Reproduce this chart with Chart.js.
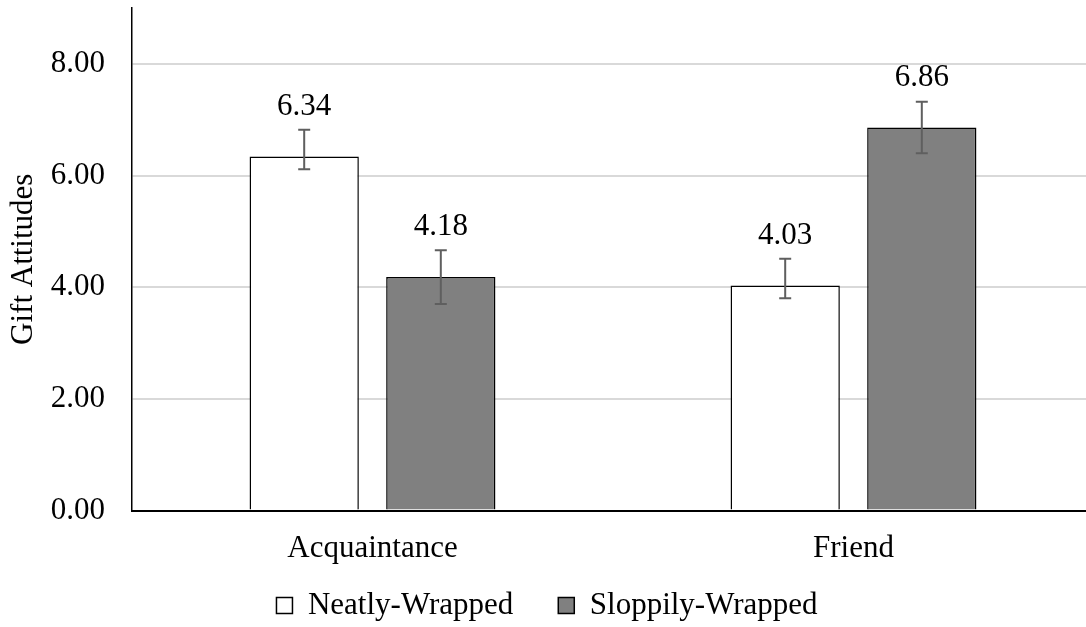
<!DOCTYPE html>
<html>
<head>
<meta charset="utf-8">
<script src="https://cdn.jsdelivr.net/npm/chart.js@4.4.0/dist/chart.umd.min.js"></script>
<style>
  html, body { margin: 0; padding: 0; background: #fff; overflow: hidden; }
  #wrap { position: relative; width: 1100px; height: 627px; }
</style>
</head>
<body>
<div id="wrap"><canvas id="giftChart"></canvas></div>
<script>
// values
const categories = ['Acquaintance', 'Friend'];
const seriesNames = ['Neatly-Wrapped', 'Sloppily-Wrapped'];
const neatly = [6.34, 4.03];
const sloppily = [4.18, 6.86];
// error bars (upper / lower lengths)
const neatlyErrUp = [0.48, 0.48];
const neatlyErrDown = [0.23, 0.23];
const sloppilyErrUp = [0.48, 0.46];
const sloppilyErrDown = [0.48, 0.46];
const yTicks = [0, 2, 4, 6, 8];

const FONT = "'Liberation Serif', 'Times New Roman', serif";
const FS = 31;

const errorBars = {
    id: 'errorBars',
    afterDatasetsDraw(chart) {
        const ctx = chart.ctx;
        const y = chart.scales.y;
        ctx.save();
        ctx.strokeStyle = '#5f5f5f';
        ctx.lineWidth = 2;
        chart.data.datasets.forEach((ds, i) => {
            chart.getDatasetMeta(i).data.forEach((bar, j) => {
                const v = ds.data[j];
                const top = y.getPixelForValue(v + ds.errUp[j]);
                const bot = y.getPixelForValue(v - ds.errDown[j]);
                ctx.beginPath();
                ctx.moveTo(bar.x, top); ctx.lineTo(bar.x, bot);
                ctx.moveTo(bar.x - 6, top); ctx.lineTo(bar.x + 6, top);
                ctx.moveTo(bar.x - 6, bot); ctx.lineTo(bar.x + 6, bot);
                ctx.stroke();
            });
        });
        // value labels above the bars
        ctx.fillStyle = '#000';
        ctx.font = FS + 'px ' + FONT;
        ctx.textAlign = 'center';
        ctx.textBaseline = 'middle';
        chart.data.datasets.forEach((ds, i) => {
            chart.getDatasetMeta(i).data.forEach((bar, j) => {
                ctx.fillText(ds.data[j].toFixed(2), bar.x, bar.y - 50);
            });
        });
        ctx.restore();
    }
};

new Chart(document.getElementById('giftChart'), {
    type: 'bar',
    data: {
        labels: categories,
        datasets: [{
            label: seriesNames[0],
            data: neatly,
            errUp: neatlyErrUp,
            errDown: neatlyErrDown,
            backgroundColor: '#ffffff',
            borderColor: '#000000',
            borderWidth: 1.5
        }, {
            label: seriesNames[1],
            data: sloppily,
            errUp: sloppilyErrUp,
            errDown: sloppilyErrDown,
            backgroundColor: '#808080',
            borderColor: '#000000',
            borderWidth: 1.5
        }]
    },
    options: {
        responsive: true,
        maintainAspectRatio: false,
        animation: false,
        categoryPercentage: 0.568,
        barPercentage: 0.80,
        layout: { padding: { top: 8, right: 6, left: 0, bottom: 0 } },
        plugins: {
            tooltip: { enabled: false },
            legend: {
                position: 'bottom',
                maxHeight: 82,
                labels: {
                    color: '#000',
                    font: { family: FONT, size: FS },
                    boxWidth: 16,
                    boxHeight: 16,
                    padding: 45
                }
            }
        },
        scales: {
            x: {
                grid: { display: false, drawTicks: false },
                border: { color: '#000', width: 2 },
                ticks: {
                    color: '#000',
                    // mirrored so the labels are not clipped to the short axis box
                    mirror: true,
                    padding: -53.5,
                    font: { family: FONT, size: FS, lineHeight: 1 }
                },
                afterFit(scale) { scale.height = 34.5; }
            },
            y: {
                min: 0,
                max: 9,
                grid: { color: '#d9d9d9', lineWidth: 2, drawTicks: false },
                border: { color: '#000', width: 1.5 },
                afterBuildTicks(scale) {
                    scale.ticks = yTicks.map(v => ({ value: v }));
                },
                ticks: {
                    color: '#000',
                    padding: 27,
                    font: { family: FONT, size: FS },
                    callback: v => Number(v).toFixed(2)
                },
                title: {
                    display: true,
                    text: 'Gift Attitudes',
                    color: '#000',
                    font: { family: FONT, size: FS },
                    padding: { top: 5.5, bottom: 0 }
                },
                afterFit(scale) {
                    scale.width = 132;
                    scale.paddingTop = 0;
                    scale.paddingBottom = 0;
                }
            }
        }
    },
    plugins: [errorBars]
});
</script>
</body>
</html>
